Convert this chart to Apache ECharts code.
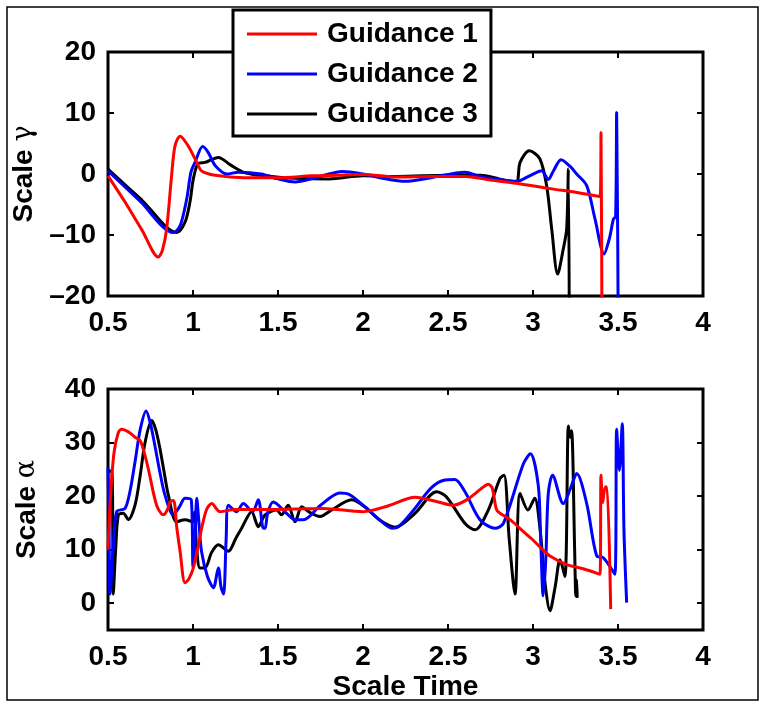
<html>
<head>
<meta http-equiv="content-type" content="text/html; charset=utf-8">
<script src="https://cdn.jsdelivr.net/npm/echarts@6/dist/echarts.min.js"></script>
<style>
html, body { margin: 0; padding: 0; background: #ffffff; }
#chart { width: 767px; height: 702px; }
</style>
<title>Guidance</title>
</head>
<body>
<div id="chart"></div>
<script type="text/javascript">
///////////////////////////////////////////////////////////////////////////////
// data: [time, value]
var names = ['Guidance 1', 'Guidance 2', 'Guidance 3'];
var colors = ['#ff0000', '#0000ff', '#000000'];

var xTicks = [0.5, 1, 1.5, 2, 2.5, 3, 3.5, 4];
var gammaTicks = [-20, -10, 0, 10, 20];
var alphaTicks = [0, 10, 20, 30, 40];

// top plot, scale gamma
var gamma1 = [[0.5,-0.3],[0.6,-4.6],[0.7,-9.2],[0.796,-13.6],[0.82,-12.5],[0.845,-9.0],[0.874,-0.3],
	[0.894,4.6],[0.924,6.2],[0.972,4.6],[1.022,1.9],[1.051,0.5],[1.13,-0.2],[1.3,-0.6],[1.5,-0.6],
	[1.7,-0.3],[1.85,-0.2],[2.0,-0.1],[2.2,-0.5],[2.4,-0.4],[2.6,-0.4],[2.75,-1.0],[2.9,-1.5],
	[3.1,-2.4],[3.25,-3.0],[3.395,-3.7],[3.4,6.8],[3.406,-30]];
var gamma2 = [[0.5,0.5],[0.69,-4.5],[0.884,-9.6],[0.924,-8.5],[0.963,-4.1],[0.988,0.3],[1.012,1.9],
	[1.057,4.5],[1.09,3.5],[1.13,1.4],[1.2,0],[1.267,0.3],[1.4,0],[1.5,-0.8],[1.6,-1.3],[1.72,-0.6],
	[1.88,0.4],[2.0,0],[2.1,-0.6],[2.25,-1.2],[2.4,-0.6],[2.6,0.3],[2.69,-0.4],[2.8,-0.9],[2.904,-1.2],
	[2.98,-0.3],[3.051,0.55],[3.09,-0.9],[3.12,0.5],[3.165,2.35],[3.22,1.2],[3.257,0],[3.316,-1.9],
	[3.365,-7.4],[3.418,-13.1],[3.45,-10.5],[3.473,-7.4],[3.486,-7],[3.492,10.1],[3.502,-30]];
var gamma3 = [[0.5,0.8],[0.7,-4.3],[0.904,-9.6],[0.953,-7.9],[0.982,-4.6],[1.002,-0.8],[1.03,1.7],
	[1.07,1.9],[1.149,2.7],[1.22,1.5],[1.306,0.2],[1.463,-0.4],[1.6,-0.7],[1.8,-0.8],[2.0,-0.3],
	[2.2,-0.4],[2.5,-0.2],[2.69,-0.2],[2.8,-0.8],[2.9,-1.4],[2.924,1.9],[2.978,3.8],[3.04,2.5],
	[3.08,-1.9],[3.11,-9],[3.145,-16.4],[3.178,-12.3],[3.198,-9],[3.208,0.8],[3.214,-30]];

// bottom plot, scale alpha
var alpha1 = [[0.5,10],[0.515,20],[0.535,28],[0.56,31.8],[0.58,32.5],[0.62,32],[0.659,31],[0.688,30.4],
	[0.71,28.5],[0.737,25.1],[0.786,18.3],[0.825,16.5],[0.85,17.5],[0.865,19],[0.885,19.2],[0.905,14],
	[0.924,9.7],[0.953,3.8],[0.975,4.5],[1.002,6.6],[1.03,10.5],[1.051,14],[1.08,17.5],[1.11,18.6],
	[1.159,17.1],[1.25,17.5],[1.4,17.5],[1.6,17.6],[1.765,17.7],[2.0,17.1],[2.15,18.2],[2.306,19.8],
	[2.443,18.9],[2.53,18.3],[2.61,19.3],[2.7,21.5],[2.737,22.2],[2.76,21.5],[2.785,17.5],[2.806,16.8],
	[2.865,15.6],[2.95,13.2],[3.0,11.8],[3.05,10.2],[3.1,8.8],[3.198,7.2],[3.3,6.4],[3.394,5.4],
	[3.4,23.9],[3.41,18.8],[3.425,21.7],[3.435,21.7],[3.457,-1.1]];
var alpha2 = [[0.5,25.4],[0.506,15],[0.512,1.7],[0.53,10],[0.551,17.1],[0.6,17.7],[0.63,21],[0.659,26.4],
	[0.69,32.5],[0.724,35.9],[0.75,33.5],[0.776,29.4],[0.805,24.5],[0.835,20.2],[0.884,16.5],[0.92,18],
	[0.953,19.6],[0.99,19.3],[1.0,6.6],[1.012,12],[1.022,19.6],[1.035,15],[1.05,9.7],[1.085,5],
	[1.12,2.9],[1.149,6.6],[1.165,3],[1.18,1.7],[1.195,12],[1.208,18.3],[1.257,17.1],[1.296,18.6],
	[1.35,17.1],[1.384,19.3],[1.414,14],[1.424,14],[1.44,17],[1.472,18.9],[1.55,16.8],[1.6,15.6],
	[1.65,15.6],[1.75,18.3],[1.865,20.6],[1.92,20.3],[2.0,18.3],[2.1,15.5],[2.17,14],[2.21,14.3],
	[2.3,17.5],[2.4,21.5],[2.482,23],[2.54,23.1],[2.6,20.8],[2.688,15.6],[2.776,14],[2.826,14.9],
	[2.943,26],[2.985,27.9],[3.031,22],[3.045,12],[3.06,1.4],[3.075,8],[3.09,20.5],[3.115,23.9],
	[3.178,18.6],[3.22,21.4],[3.257,24.2],[3.316,18.6],[3.375,8.8],[3.414,8.5],[3.482,5.4],
	[3.492,32.5],[3.508,24.8],[3.525,33.5],[3.535,13.7],[3.551,0.1]];
var alpha3 = [[0.5,24.5],[0.522,24.8],[0.531,1.7],[0.545,10],[0.561,16.5],[0.59,16.8],[0.62,15.6],
	[0.659,18.3],[0.69,24],[0.718,30],[0.757,34.1],[0.78,32.5],[0.806,28.8],[0.83,24.5],[0.855,20.2],
	[0.904,15.2],[0.953,15.6],[1.0,15.2],[1.01,17],[1.02,11],[1.041,6.6],[1.07,6.6],[1.11,9.5],
	[1.149,10.9],[1.208,9.7],[1.25,12],[1.286,14],[1.345,17.1],[1.384,14.3],[1.424,16.5],[1.492,17.4],
	[1.52,16.5],[1.56,18.3],[1.6,15.2],[1.64,18],[1.68,17.1],[1.747,16.2],[1.816,17.4],[1.933,19.3],
	[2.01,18],[2.1,15.5],[2.19,14.2],[2.306,16.8],[2.433,20.8],[2.49,19.9],[2.6,14.9],[2.659,13.7],
	[2.737,17.4],[2.806,23.3],[2.83,23.9],[2.86,12],[2.894,1.7],[2.924,20.5],[2.97,17.4],[3.01,19.6],
	[3.04,14.3],[3.07,4],[3.1,-1.4],[3.13,3],[3.159,8.1],[3.188,5],[3.208,33.1],[3.218,31],
	[3.227,32.2],[3.245,10],[3.252,1.4],[3.257,4.4],[3.26,1]];

///////////////////////////////////////////////////////////////////////////////
var font = "'Liberation Sans', Arial, sans-serif";

function fmt(v) {
	return v < 0 ? '\u2013' + Math.abs(v) : '' + v;
}

// x axis, labels only on the bottom one
function mk_x(grid, pos, show) {
	return {
		type: 'value', gridIndex: grid, position: pos,
		min: 0.5, max: 4, interval: 0.5,
		axisLine: { show: false, onZero: false },
		axisTick: { show: true, inside: true, length: 6, customValues: xTicks, lineStyle: { color: '#000', width: 2 } },
		axisLabel: { show: show, margin: 13, customValues: xTicks, color: '#000', fontSize: 28, fontWeight: 'bold', fontFamily: font },
		splitLine: { show: false },
	};
}

function mk_y(grid, pos, show, ticks, min, max) {
	return {
		type: 'value', gridIndex: grid, position: pos,
		min: min, max: max,
		axisLine: { show: false, onZero: false },
		axisTick: { show: true, inside: true, length: 6, customValues: ticks, lineStyle: { color: '#000', width: 2 } },
		axisLabel: { show: show, margin: 12, customValues: ticks, formatter: fmt, color: '#000', fontSize: 28, fontWeight: 'bold', fontFamily: font },
		splitLine: { show: false },
	};
}

var xAxes = [mk_x(0, 'bottom', true), mk_x(0, 'top', false), mk_x(1, 'bottom', true), mk_x(1, 'top', false)];
var yAxes = [mk_y(0, 'left', true, gammaTicks, -20, 20), mk_y(0, 'right', false, gammaTicks, -20, 20),
	mk_y(1, 'left', true, alphaTicks, -5, 40), mk_y(1, 'right', false, alphaTicks, -5, 40)];

var nameStyle = {
	color: '#000', fontSize: 28, fontWeight: 'bold', fontFamily: font,
	rich: { g: { fontSize: 27, fontWeight: 'normal', fontFamily: "'DejaVu Serif', serif", color: '#000' } },
};
yAxes[0].name = 'Scale {g|\u03b3}';
yAxes[2].name = 'Scale {g|\u03b1}';
[0, 2].forEach(function(i) {
	yAxes[i].nameLocation = 'middle';
	yAxes[i].nameRotate = 90;
	yAxes[i].nameGap = 67;
	yAxes[i].nameTextStyle = nameStyle;
});
xAxes[2].name = 'Scale Time';
xAxes[2].nameLocation = 'middle';
xAxes[2].nameGap = 43;
xAxes[2].nameTextStyle = { color: '#000', fontSize: 28, fontWeight: 'bold', fontFamily: font };

var series = [];
[gamma1, gamma2, gamma3].forEach(function(d, i) {
	series.push({ name: names[i], type: 'line', xAxisIndex: 0, yAxisIndex: 0, data: d,
		symbol: 'none', smooth: 0.3, clip: true, z: 5 - i,
		lineStyle: { color: colors[i], width: 3 }, itemStyle: { color: colors[i] } });
});
[alpha1, alpha2, alpha3].forEach(function(d, i) {
	series.push({ name: names[i], type: 'line', xAxisIndex: 2, yAxisIndex: 2, data: d,
		symbol: 'none', smooth: 0.3, clip: true, z: 5 - i,
		lineStyle: { color: colors[i], width: 3 }, itemStyle: { color: colors[i] } });
});

var option = {
	animation: false,
	backgroundColor: '#ffffff',
	grid: [
		{ left: 108, top: 52, width: 595, height: 244, show: true, borderColor: '#000', borderWidth: 3, backgroundColor: 'transparent' },
		{ left: 108, top: 389, width: 595, height: 242, show: true, borderColor: '#000', borderWidth: 3, backgroundColor: 'transparent' },
	],
	xAxis: xAxes,
	yAxis: yAxes,
	legend: {
		data: names, orient: 'vertical', left: 233, top: 10,
		icon: 'rect', itemWidth: 70, itemHeight: 3, itemGap: 12,
		padding: [10, 13, 8, 14],
		backgroundColor: '#ffffff', borderColor: '#000', borderWidth: 3,
		textStyle: { color: '#000', fontSize: 28, fontWeight: 'bold', fontFamily: font, padding: [0, 0, 0, 5] },
		selectedMode: false,
	},
	graphic: [{
		type: 'rect', z: -1, silent: true,
		shape: { x: 7, y: 7, width: 751, height: 693 },
		style: { fill: 'none', stroke: '#000', lineWidth: 1.5 },
	}],
	series: series,
};

var chart = echarts.init(document.getElementById('chart'));
chart.setOption(option);
</script>
</body>
</html>
